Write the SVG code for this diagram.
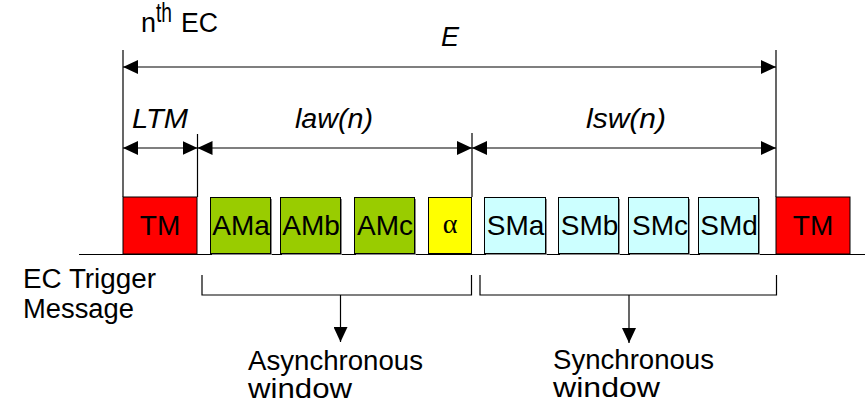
<svg xmlns="http://www.w3.org/2000/svg" width="867" height="403" viewBox="0 0 867 403">
<style>
.t{font-family:"Liberation Sans",Arial,sans-serif;font-size:27px;fill:#000}
.i{font-style:italic}
.ln{stroke:#000;stroke-width:1.2;fill:none}
.box{stroke:#000;stroke-width:1}
.sh{fill:#888}
.bt{font-family:"Liberation Sans",Arial,sans-serif;font-size:28px;fill:#000;text-anchor:middle}
</style>
<defs>
<marker id="ah" viewBox="0 0 15 14" refX="15" refY="7" markerWidth="15" markerHeight="14" markerUnits="userSpaceOnUse" orient="auto-start-reverse">
<path d="M0,0 L15,7 L0,14 Z" fill="#000"/>
</marker>
</defs>
<rect width="867" height="403" fill="#fff"/>
<g id="labels">
<text class="t" x="141" y="32" font-size="25">n</text>
<text class="t" x="156" y="22" font-size="14" textLength="16" lengthAdjust="spacingAndGlyphs">th</text>
<text class="t" x="181" y="32" font-size="25" textLength="37" lengthAdjust="spacingAndGlyphs">EC</text>
<text class="t i" x="441" y="46">E</text>
<text class="t i" x="132" y="128" textLength="56" lengthAdjust="spacingAndGlyphs">LTM</text>
<text class="t i" x="295" y="128" textLength="78" lengthAdjust="spacingAndGlyphs">law(n)</text>
<text class="t i" x="586" y="128" textLength="80" lengthAdjust="spacingAndGlyphs">lsw(n)</text>
<text class="t" x="23" y="288" textLength="133" lengthAdjust="spacingAndGlyphs">EC Trigger</text>
<text class="t" x="23" y="318" textLength="111" lengthAdjust="spacingAndGlyphs">Message</text>
</g>
<g id="connectors">
<line class="ln" x1="79" y1="254.5" x2="865" y2="254.5" stroke="#777"/>
<line class="ln" x1="123" y1="50" x2="123" y2="197"/>
<line class="ln" x1="776" y1="50" x2="776" y2="197"/>
<line class="ln" x1="197.5" y1="134" x2="197.5" y2="197"/>
<line class="ln" x1="472" y1="133" x2="472" y2="197"/>
<line class="ln" x1="123" y1="67" x2="776" y2="67" marker-start="url(#ah)" marker-end="url(#ah)"/>
<line class="ln" x1="123" y1="148" x2="197.5" y2="148" marker-start="url(#ah)" marker-end="url(#ah)"/>
<line class="ln" x1="197.5" y1="148" x2="472" y2="148" marker-start="url(#ah)" marker-end="url(#ah)"/>
<line class="ln" x1="472" y1="148" x2="776" y2="148" marker-start="url(#ah)" marker-end="url(#ah)"/>
<path class="ln" d="M202,275 V295 H471.5 V275"/>
<path class="ln" d="M480,275 V295 H776.5 V275"/>
<line class="ln" x1="340.5" y1="295" x2="340.5" y2="342" marker-end="url(#ah)"/>
<line class="ln" x1="629" y1="295" x2="629" y2="343" marker-end="url(#ah)"/>
</g>
<g id="tm1"><rect class="box" x="123" y="197" width="74" height="57" fill="#FF0000"/><text class="bt" x="160" y="235">TM</text></g>
<g id="ama"><rect class="sh" x="212" y="199" width="60" height="56"/><rect class="box" x="210.5" y="197.5" width="60" height="56" fill="#99CC00"/><text class="bt" x="241" y="235">AMa</text></g>
<g id="amb"><rect class="sh" x="282" y="199" width="60" height="56"/><rect class="box" x="280.5" y="197.5" width="60" height="56" fill="#99CC00"/><text class="bt" x="311" y="235">AMb</text></g>
<g id="amc"><rect class="sh" x="356" y="199" width="60" height="56"/><rect class="box" x="354.5" y="197.5" width="60" height="56" fill="#99CC00"/><text class="bt" x="385" y="235">AMc</text></g>
<g id="alpha"><rect class="box" x="428.5" y="197.5" width="43" height="56" fill="#FFFF00"/><text class="bt" x="450" y="233" style="font-family:'Liberation Serif',serif">α</text></g>
<g id="sma"><rect class="sh" x="486" y="199" width="61" height="56"/><rect class="box" x="484.5" y="197.5" width="61" height="56" fill="#CCFFFF"/><text class="bt" x="515.5" y="235">SMa</text></g>
<g id="smb"><rect class="sh" x="560" y="199" width="60" height="56"/><rect class="box" x="558.5" y="197.5" width="60" height="56" fill="#CCFFFF"/><text class="bt" x="589.5" y="235">SMb</text></g>
<g id="smc"><rect class="sh" x="630" y="199" width="60" height="56"/><rect class="box" x="628.5" y="197.5" width="60" height="56" fill="#CCFFFF"/><text class="bt" x="660" y="235">SMc</text></g>
<g id="smd"><rect class="sh" x="700" y="199" width="60" height="56"/><rect class="box" x="698.5" y="197.5" width="60" height="56" fill="#CCFFFF"/><text class="bt" x="729" y="235">SMd</text></g>
<g id="tm2"><rect class="box" x="776" y="197" width="74" height="57" fill="#FF0000"/><text class="bt" x="813" y="235">TM</text></g>
<g id="async"><text class="t" x="248" y="370" textLength="175" lengthAdjust="spacingAndGlyphs">Asynchronous</text><text class="t" x="248" y="398" textLength="104" lengthAdjust="spacingAndGlyphs">window</text></g>
<g id="sync"><text class="t" x="553" y="369" textLength="161" lengthAdjust="spacingAndGlyphs">Synchronous</text><text class="t" x="553" y="397" textLength="107" lengthAdjust="spacingAndGlyphs">window</text></g>
</svg>
